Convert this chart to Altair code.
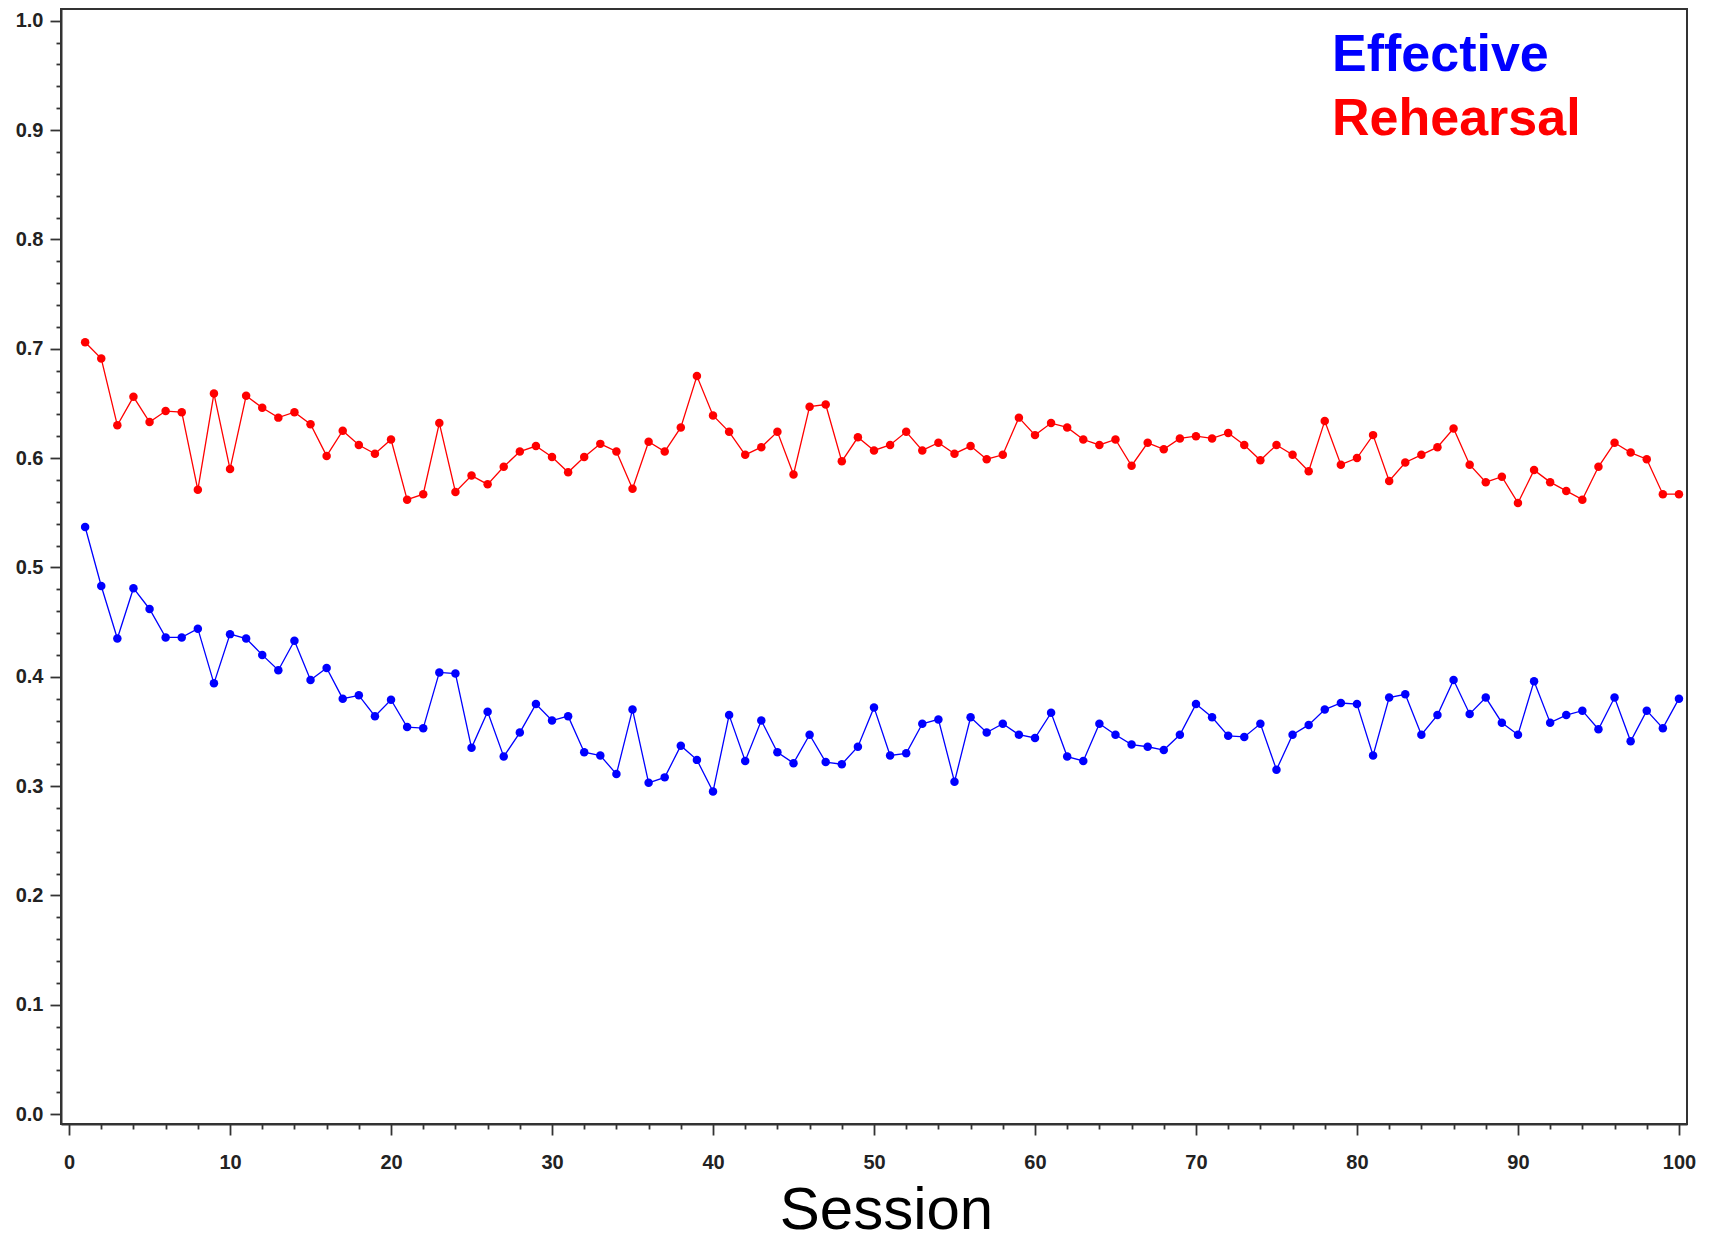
import altair as alt
import pandas as pd

sessions = list(range(1, 101))

rehearsal = [
    0.706, 0.691, 0.630, 0.656, 0.633, 0.643, 0.642, 0.571, 0.659, 0.590,
    0.657, 0.646, 0.637, 0.642, 0.631, 0.602, 0.625, 0.612, 0.604, 0.617,
    0.562, 0.567, 0.632, 0.569, 0.584, 0.576, 0.592, 0.606, 0.611, 0.601,
    0.587, 0.601, 0.613, 0.606, 0.572, 0.615, 0.606, 0.628, 0.675, 0.639,
    0.624, 0.603, 0.610, 0.624, 0.585, 0.647, 0.649, 0.597, 0.619, 0.607,
    0.612, 0.624, 0.607, 0.614, 0.604, 0.611, 0.599, 0.603, 0.637, 0.621,
    0.632, 0.628, 0.617, 0.612, 0.617, 0.593, 0.614, 0.608, 0.618, 0.620,
    0.618, 0.623, 0.612, 0.598, 0.612, 0.603, 0.588, 0.634, 0.594, 0.600,
    0.621, 0.579, 0.596, 0.603, 0.610, 0.627, 0.594, 0.578, 0.583, 0.559,
    0.589, 0.578, 0.570, 0.562, 0.592, 0.614, 0.605, 0.599, 0.567, 0.567,
]

effective = [
    0.537, 0.483, 0.435, 0.481, 0.462, 0.436, 0.436, 0.444, 0.394, 0.439,
    0.435, 0.420, 0.406, 0.433, 0.397, 0.408, 0.380, 0.383, 0.364, 0.379,
    0.354, 0.353, 0.404, 0.403, 0.335, 0.368, 0.327, 0.349, 0.375, 0.360,
    0.364, 0.331, 0.328, 0.311, 0.370, 0.303, 0.308, 0.337, 0.324, 0.295,
    0.365, 0.323, 0.360, 0.331, 0.321, 0.347, 0.322, 0.320, 0.336, 0.372,
    0.328, 0.330, 0.357, 0.361, 0.304, 0.363, 0.349, 0.357, 0.347, 0.344,
    0.367, 0.327, 0.323, 0.357, 0.347, 0.338, 0.336, 0.333, 0.347, 0.375,
    0.363, 0.346, 0.345, 0.357, 0.315, 0.347, 0.356, 0.370, 0.376, 0.375,
    0.328, 0.381, 0.384, 0.347, 0.365, 0.397, 0.366, 0.381, 0.358, 0.347,
    0.396, 0.358, 0.365, 0.369, 0.352, 0.381, 0.341, 0.369, 0.353, 0.380,
]

series_names = ["Effective", "Rehearsal"]
series_colors = ["#0000ff", "#ff0000"]

x_ticks = list(range(0, 101, 2))
y_ticks = [round(i * 0.02, 2) for i in range(51)]

df = pd.DataFrame({
    "Session": sessions * 2,
    "Value": effective + rehearsal,
    "Series": ["Effective"] * len(sessions) + ["Rehearsal"] * len(sessions),
})

legend_df = pd.DataFrame({"label": series_names})

xscale = alt.Scale(domain=[-0.5, 100.5], nice=False, zero=False)
yscale = alt.Scale(domain=[-0.009, 1.0107], nice=False, zero=False)
cscale = alt.Scale(domain=series_names, range=series_colors)

x_major = "datum.value % 10 === 0"
y_major = "round(datum.value * 100) % 10 === 0"

x_enc = alt.X(
    "Session:Q",
    scale=xscale,
    axis=alt.Axis(
        values=x_ticks,
        tickCount=500,
        title="Session",
        titleFont="Liberation Sans",
        titleFontSize=60,
        titleFontWeight="normal",
        titleColor="#000000",
        titleX=825,
        titleY=104,
        titleBaseline="alphabetic",
        titleAnchor="start",
        titleAlign="center",
        labelExpr=f"({x_major}) ? format(datum.value, 'd') : ''",
        labelFont="Liberation Sans",
        labelFontSize=20,
        labelFontWeight="bold",
        labelColor="#222222",
        labelPadding=17,
        labelBaseline="top",
        labelFlush=False,
        labelOverlap=False,
        tickSize={"condition": {"test": x_major, "value": 11}, "value": 5},
        tickColor="#333333",
        tickWidth=1.8,
        domainColor="#333333",
        domainWidth=2,
        grid=False,
    ),
)

y_enc = alt.Y(
    "Value:Q",
    scale=yscale,
    axis=alt.Axis(
        values=y_ticks,
        tickCount=500,
        title=None,
        labelExpr=f"({y_major}) ? format(datum.value, '.1f') : ''",
        labelFont="Liberation Sans",
        labelFontSize=20,
        labelFontWeight="bold",
        labelColor="#222222",
        labelPadding=7,
        labelFlush=False,
        labelOverlap=False,
        tickSize={"condition": {"test": y_major, "value": 11}, "value": 5},
        tickColor="#333333",
        tickWidth=1.8,
        domainColor="#333333",
        domainWidth=2,
        grid=False,
    ),
)

base = alt.Chart(df)

lines = base.mark_line(strokeWidth=1.3).encode(
    x=x_enc,
    y=y_enc,
    color=alt.Color("Series:N", scale=cscale, legend=None),
    detail="Series:N",
)

points = base.mark_circle(size=72, opacity=1).encode(
    x=alt.X("Session:Q", scale=xscale),
    y=alt.Y("Value:Q", scale=yscale),
    color=alt.Color("Series:N", scale=cscale, legend=None),
)

legend_x = 78.45
legend_y = {"Effective": 0.9543, "Rehearsal": 0.8955}

legend_layers = []
for name, col in zip(series_names, series_colors):
    legend_layers.append(
        alt.Chart(legend_df[legend_df["label"] == name]).mark_text(
            align="left",
            baseline="alphabetic",
            font="Liberation Sans",
            fontSize=52,
            fontWeight="bold",
            color=col,
        ).encode(
            x=alt.datum(legend_x, scale=xscale),
            y=alt.datum(legend_y[name], scale=yscale),
            text="label:N",
        )
    )

chart = alt.layer(lines, points, *legend_layers).properties(
    width=1626,
    height=1115,
    padding={"left": 53, "top": 1, "right": 14, "bottom": 117},
    autosize=alt.AutoSizeParams(type="none"),
    background="#ffffff",
).configure_view(
    stroke="#333333",
    strokeWidth=2,
)

chart.save("out.html", embed_options={"renderer": "svg", "actions": False})
